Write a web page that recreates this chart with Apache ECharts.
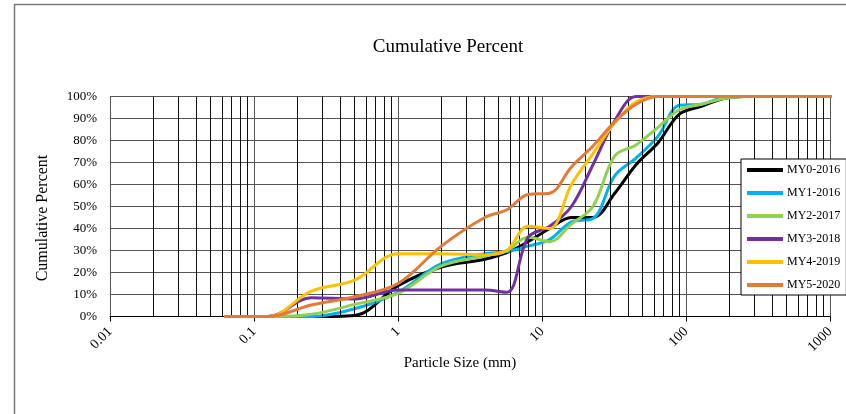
<!DOCTYPE html>
<html>
<head>
<meta charset="utf-8">
<script src="https://cdn.jsdelivr.net/npm/echarts@6/dist/echarts.min.js"></script>
<style>
  html, body { margin: 0; padding: 0; background: #fff; }
  #chart { width: 846px; height: 414px; }
</style>
</head>
<body>
<div id="chart"></div>
<script>
// sieve sizes (mm) shared by every survey
let sizes = [0.062, 0.125, 0.25, 0.5, 1, 2, 4, 5.7, 8, 11.3, 16, 22.6, 32, 45, 64, 90, 128, 180, 256, 362, 512, 1024];

let my0 = [0, 0, 0, 0.5, 14, 22.5, 26, 29, 34, 40, 45, 45, 56, 69, 79, 92, 95.5, 99, 100, 100, 100, 100];
let my1 = [0, 0, 0, 3.5, 11, 24, 28.5, 29.5, 32, 35, 43, 44.5, 64, 72, 82, 96, 96.5, 99.5, 100, 100, 100, 100];
let my2 = [0, 0, 1, 5.5, 10.5, 23, 27.5, 30, 36, 34, 42, 50, 73, 78, 86, 94, 96.5, 99, 100, 100, 100, 100];
let my3 = [0, 0, 8.5, 8, 12, 12, 12, 11, 36, 41, 50, 69, 89, 100, 100, 100, 100, 100, 100, 100, 100, 100];
let my4 = [0, 0, 11.5, 16.5, 28.5, 28.5, 28, 30, 41, 40, 60, 74, 88, 97.5, 100, 100, 100, 100, 100, 100, 100, 100];
let my5 = [0, 0, 5.2, 9, 15, 32, 45, 48.5, 55.5, 56, 68, 77.5, 88.5, 96.5, 100, 100, 100, 100, 100, 100, 100, 100];

let seriesNames = ["MY0-2016", "MY1-2016", "MY2-2017", "MY3-2018", "MY4-2019", "MY5-2020"];
let seriesColors = ["#000000", "#00B0F0", "#92D050", "#7030A0", "#FFC000", "#E07B39"];
let seriesValues = [my0, my1, my2, my3, my4, my5];

let xTickLabels = ["0.01", "0.1", "1", "10", "100", "1000"];
let yTicks = [0, 10, 20, 30, 40, 50, 60, 70, 80, 90, 100];

let serif = "'Liberation Serif', 'DejaVu Serif', serif";

// minor vertical grid lines 2..9 in each decade
let minorLines = [];
for (let e = -2; e < 3; e++) {
    for (let k = 2; k <= 9; k++) {
        minorLines.push({ xAxis: k * Math.pow(10, e) });
    }
}

let dom = document.getElementById("chart");
let myChart = echarts.init(dom, null, { renderer: "canvas" });

let series = seriesNames.map((name, i) => ({
    name: name,
    type: "line",
    smooth: 0.35,
    showSymbol: false,
    symbol: "none",
    color: seriesColors[i],
    lineStyle: { width: 3, color: seriesColors[i] },
    data: sizes.map((s, j) => [s, seriesValues[i][j]]),
    z: 3 + i
}));

series.unshift({
    name: "grid",
    type: "line",
    data: [],
    silent: true,
    markLine: {
        silent: true,
        symbol: "none",
        label: { show: false },
        lineStyle: { color: "#111", width: 1, type: "solid" },
        data: minorLines,
        animation: false
    },
    z: 1
});

let option = {
    backgroundColor: "#fff",
    animation: false,
    title: {
        text: "Cumulative Percent",
        left: 443,
        top: 33,
        textAlign: "center",
        textStyle: { fontFamily: serif, fontWeight: "normal", fontSize: 19, color: "#000" }
    },
    graphic: [{
        type: "rect",
        shape: { x: 14.5, y: 4.5, width: 900, height: 500 },
        style: { fill: "none", stroke: "#777", lineWidth: 1.5 },
        silent: true
    }, {
        type: "text",
        x: 43,
        y: 218,
        rotation: Math.PI / 2,
        style: {
            text: "Cumulative Percent",
            fontFamily: serif,
            fontSize: 16,
            fill: "#000",
            align: "center",
            verticalAlign: "middle"
        },
        silent: true
    }, {
        type: "text",
        x: 460,
        y: 363,
        style: {
            text: "Particle Size (mm)",
            fontFamily: serif,
            fontSize: 15,
            fill: "#000",
            align: "center",
            verticalAlign: "middle"
        },
        silent: true
    }],
    legend: {
        data: seriesNames,
        orient: "vertical",
        left: 741,
        top: 159,
        z: 20,
        padding: [4, 6, 3, 6],
        itemGap: 9,
        itemWidth: 36,
        itemHeight: 4,
        icon: "rect",
        backgroundColor: "#fff",
        borderColor: "#000",
        borderWidth: 1,
        borderRadius: 0,
        textStyle: { fontFamily: serif, fontSize: 12, color: "#000", lineHeight: 14, padding: [0, 0, 0, -1] }
    },
    grid: { left: 110, right: 16, top: 96.5, bottom: 97.5 },
    xAxis: {
        type: "log",
        logBase: 10,
        min: 0.01,
        max: 1000,
        axisLine: { show: true, lineStyle: { color: "#000", width: 1 } },
        axisTick: { show: true, length: 5, lineStyle: { color: "#000" } },
        axisLabel: {
            rotate: 45,
            margin: 13,
            fontFamily: serif,
            fontSize: 14,
            color: "#000",
            formatter: function (v) {
                let idx = Math.round(Math.log10(v)) + 2;
                return xTickLabels[idx];
            }
        },
        splitLine: { show: true, lineStyle: { color: "#555", width: 1 } }
    },
    yAxis: {
        type: "value",
        min: yTicks[0],
        max: yTicks[yTicks.length - 1],
        interval: 10,
        axisLine: { show: true, lineStyle: { color: "#555", width: 1 } },
        axisTick: { show: false },
        axisLabel: { fontFamily: serif, fontSize: 13, color: "#000", margin: 13, formatter: "{value}%" },
        splitLine: { show: true, lineStyle: { color: "#555", width: 1 } }
    },
    series: series
};

myChart.setOption(option);
window.addEventListener("resize", myChart.resize);
</script>
</body>
</html>
